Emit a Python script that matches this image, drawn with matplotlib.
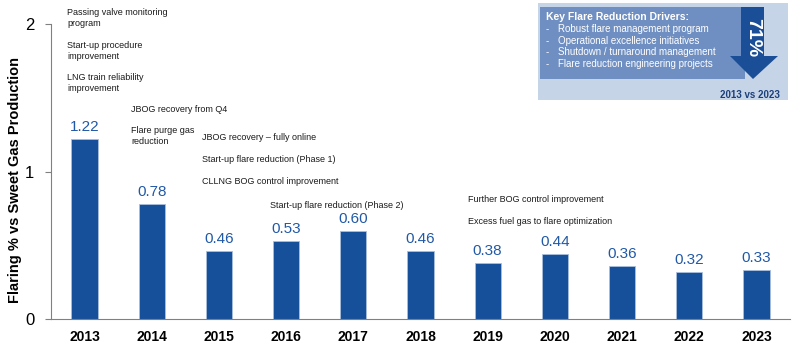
import matplotlib
matplotlib.use("Agg")
import matplotlib.pyplot as plt
from matplotlib.patches import Rectangle, Polygon

years = ["2013", "2014", "2015", "2016", "2017", "2018", "2019", "2020", "2021", "2022", "2023"]
flaring = [1.22, 0.78, 0.46, 0.53, 0.60, 0.46, 0.38, 0.44, 0.36, 0.32, 0.33]
y_ticks = [0, 1, 2]
y_label = "Flaring % vs Sweet Gas Production"

notes = [
    ("Passing valve monitoring\nprogram", 67, 18),
    ("Start-up procedure\nimprovement", 67, 51),
    ("LNG train reliability\nimprovement", 67, 83),
    ("JBOG recovery from Q4", 131, 109),
    ("Flare purge gas\nreduction", 131, 136),
    ("JBOG recovery \u2013 fully online", 202, 138),
    ("Start-up flare reduction (Phase 1)", 202, 160),
    ("CLLNG BOG control improvement", 202, 181),
    ("Start-up flare reduction (Phase 2)", 270, 206),
    ("Further BOG control improvement", 468, 199),
    ("Excess fuel gas to flare optimization", 468, 221),
]
drivers_title = "Key Flare Reduction Drivers:"
drivers = ["Robust flare management program",
           "Operational excellence initiatives",
           "Shutdown / turnaround management",
           "Flare reduction engineering projects"]
reduction = "71%"
compare = "2013 vs 2023"

plt.rcParams['font.family'] = ['Liberation Sans', 'DejaVu Sans']

W, H = 795, 358
fig = plt.figure(figsize=(W / 100, H / 100), dpi=100)

def fx(x):
    return x / W

def fy(y):
    return 1 - y / H

ax = fig.add_axes([fx(51), fy(319), fx(790) - fx(51), fy(24) - fy(319)])
bar_color = "#16509a"
lab_color = "#2159a6"
x = list(range(len(years)))
bars = ax.bar(x, flaring, width=0.39, color=bar_color, edgecolor="#a9bfdc", linewidth=0.6)
for xi, v in zip(x, flaring):
    ax.annotate(f"{v:.2f}", (xi, v), xytext=(0, 3.5), textcoords="offset points",
                ha="center", va="bottom", fontsize=11, color=lab_color)
ax.set_xlim(-0.5, len(years) - 0.5)
ax.set_ylim(0, 2)
ax.set_xticks(x)
ax.set_xticklabels(years, fontsize=10, fontweight="bold")
ax.set_yticks(y_ticks)
ax.set_yticklabels([str(t) for t in y_ticks], fontsize=12)
ax.tick_params(axis="x", length=0, pad=8)
ax.tick_params(axis="y", direction="out", length=4, color="#808080", pad=8)
for s in ["top", "right"]:
    ax.spines[s].set_visible(False)
ax.spines["left"].set_color("#808080")
ax.spines["bottom"].set_color("#808080")
fig.text(fx(15), fy(180), y_label, fontsize=10.5, fontweight="bold", rotation=90,
         ha="center", va="center")

for txt, px, py in notes:
    fig.text(fx(px), fy(py), txt, fontsize=6.5, ha="left", va="center",
             color="#1a1a1a", linespacing=1.25)

# drivers box
fig.patches.append(Rectangle((fx(538), fy(100)), fx(788) - fx(538), fy(3) - fy(100),
                             transform=fig.transFigure, facecolor="#c6d4e8", edgecolor="none"))
fig.patches.append(Rectangle((fx(540), fy(79)), fx(745) - fx(540), fy(7) - fy(79),
                             transform=fig.transFigure, facecolor="#6f8fc2", edgecolor="none"))
arrow_px = [(741, 7), (764, 7), (764, 56), (778, 56), (753, 79), (730, 56), (741, 56)]
fig.patches.append(Polygon([(fx(a), fy(b)) for a, b in arrow_px], closed=True,
                           transform=fig.transFigure, facecolor="#1a4e96", edgecolor="none"))
fig.text(fx(546), fy(17), drivers_title, fontsize=7.5, fontweight="bold", color="white",
         ha="left", va="center")
for i, d in enumerate(drivers):
    yy = 29 + i * 11.7
    fig.text(fx(546), fy(yy), "-", fontsize=7, color="white", ha="left", va="center")
    fig.text(fx(558), fy(yy), d, fontsize=7, color="white", ha="left", va="center")
fig.text(fx(753), fy(38), reduction, fontsize=14, fontweight="bold", color="white",
         rotation=-90, ha="center", va="center")
fig.text(fx(780), fy(95), compare, fontsize=7, fontweight="bold", color="#1d3f78",
         ha="right", va="center")

fig.savefig("out.png", dpi=100)
